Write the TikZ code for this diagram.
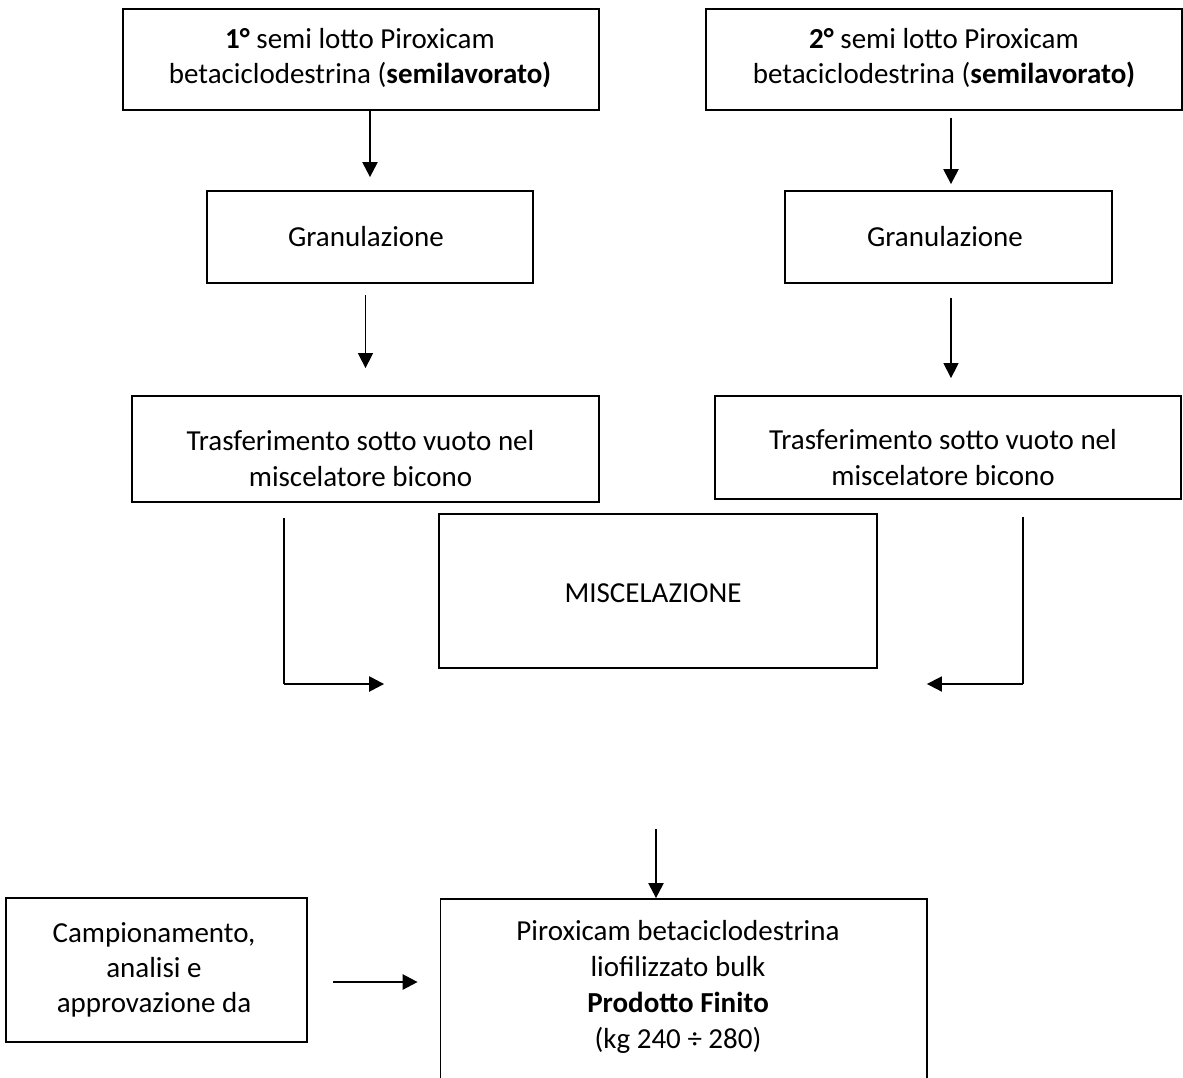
\documentclass[tikz,border=0pt]{standalone}
\usepackage{fontspec}
\setmainfont{Carlito}
\usetikzlibrary{arrows.meta,calc}
\begin{document}
\begin{tikzpicture}[x=1pt,y=-1pt,
  box/.style={draw,line width=1.8pt,inner sep=0pt,anchor=center},
  txt/.style={align=center,inner sep=0pt,font=\fontsize{29}{35}\selectfont},
  txtb/.style={align=center,inner sep=0pt,font=\fontsize{29}{36}\selectfont},
  arr/.style={-{Triangle[width=15pt,length=15pt]}},
]
\fill[white] (0,0) rectangle (1183,1077);
\clip (0,0) rectangle (1183,1077);
% boxes
\node[box,minimum width=476pt,minimum height=101pt] (b1) at (361,59.5) {};
\node[txt] (b1t) at (360,58) {\textbf{1°} semi lotto Piroxicam\\betaciclodestrina (\textbf{semilavorato)}};
\node[box,minimum width=476pt,minimum height=101pt] (b2) at (944,59.5) {};
\node[txt] (b2t) at (944,58) {\textbf{2°} semi lotto Piroxicam\\betaciclodestrina (\textbf{semilavorato)}};
\node[box,minimum width=326pt,minimum height=92pt] (g1) at (370,237) {};
\node[txt] (g1t) at (366,237) {Granulazione};
\node[box,minimum width=327pt,minimum height=92pt] (g2) at (948.5,237) {};
\node[txt] (g2t) at (945,237) {Granulazione};
\node[box,minimum width=467pt,minimum height=106pt] (t1) at (365.5,449) {};
\node[txtb] (t1t) at (360.5,459) {Trasferimento sotto vuoto nel\\miscelatore bicono};
\node[box,minimum width=466pt,minimum height=103pt] (t2) at (948,447.5) {};
\node[txtb] (t2t) at (943,457.5) {Trasferimento sotto vuoto nel\\miscelatore bicono};
\node[box,minimum width=438pt,minimum height=154pt] (m) at (658,591) {};
\node[txt] (mt) at (653,593.5) {MISCELAZIONE};
\node[box,minimum width=300.7pt,minimum height=143.7pt] (c) at (156.3,970) {};
\node[txt] (ct) at (154,969.5) {Campionamento,\\analisi e\\approvazione da};
\node[box,minimum width=486.3pt,minimum height=220pt] (f) at (683.7,1009) {};
\node[txtb] (ft) at (678,986.5) {Piroxicam betaciclodestrina\\liofilizzato bulk\\\textbf{Prodotto Finito}\\(kg 240 ÷ 280)};
% connectors
\draw[arr,line width=2.3pt] (b1.south -| g1.north) -- ($(g1.north)+(0,-13)$);
\draw[arr,line width=2.3pt] ($(b2.south -| g2.north)+(2.5,7)$) -- ($(g2.north)+(2.5,-6)$);
\draw[arr,line width=1.4pt] ($(g1.south -| t1.north)+(0,11)$) -- ($(t1.north)+(0,-27)$);
\draw[arr,line width=1.4pt] ($(g2.south -| t2.north)+(3,14)$) -- ($(t2.north)+(3,-17)$);
% left elbow
\coordinate (jl) at ($(m.west)+(-54,93)$);
\coordinate (l1) at ($(t1.south)+(-81.5,15)$);
\coordinate (l2) at (l1 |- jl);
\draw[line width=1.4pt] (l1) -- (l2);
\draw[arr,line width=2.4pt] (l2) -- (jl);
% right elbow
\coordinate (jr) at ($(m.east)+(49,93)$);
\coordinate (r1) at ($(t2.south)+(75,17)$);
\coordinate (r2) at (r1 |- jr);
\draw[line width=1.4pt] (r1) -- (r2);
\draw[arr,line width=1.8pt] (r2) -- (jr);
% down to final
\coordinate (jd) at ($(f.north)+(-27.7,-69)$);
\draw[arr,line width=2.2pt] (jd) -- (jd |- f.north);
% campionamento arrow
\coordinate (cs) at ($(c.east)+(25.4,12)$);
\coordinate (ce) at ($(f.west |- cs)+(-22,0)$);
\draw[arr,line width=2.5pt] (cs) -- (ce);
\end{tikzpicture}
\end{document}
